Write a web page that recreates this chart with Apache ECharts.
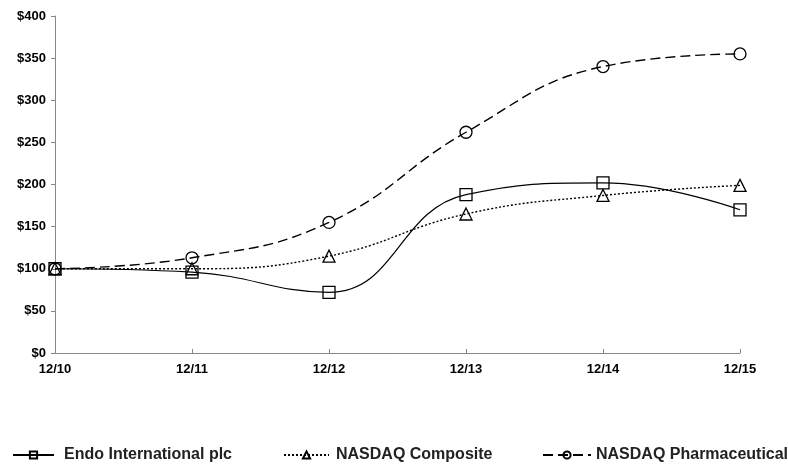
<!DOCTYPE html>
<html><head><meta charset="utf-8">
<script src="https://cdn.jsdelivr.net/npm/echarts@6/dist/echarts.min.js"></script>
<style>html,body{margin:0;padding:0;background:#fff}#c{width:788px;height:467px}</style>
</head><body><div id="c"></div>
<script>
const categories = ['12/10','12/11','12/12','12/13','12/14','12/15'];
const endo = [100, 96, 72, 188, 202, 170];
const nasdaqComposite = [100, 100, 115, 165, 187, 199];
const nasdaqPharma = [100, 113, 155, 262, 340, 355];
const yTicks = [0, 50, 100, 150, 200, 250, 300, 350, 400];

const chart = echarts.init(document.getElementById('c'));
const lblFont = {fontFamily:'Liberation Sans, Arial, sans-serif', fontWeight:'bold', fontSize:13, color:'#000'};
function mk(name, data, symbol, dash, w){
  return {
    name, type:'line', data, smooth:0.45, symbol, symbolSize: 12,
    lineStyle:{color:'#000', width:w, type:dash},
    itemStyle:{color:'rgba(255,255,255,0)', borderColor:'#000', borderWidth:1.3},
    emphasis:{disabled:true}, z: 2
  };
}
function leg(name, left, w, pad){
  return {data:[name], left, top:447, itemWidth:w, itemHeight:9, itemGap:0, padding:0,
    textStyle:{fontFamily:'Liberation Sans, Arial, sans-serif', fontSize:16, fontWeight:'bold', color:'#222', padding:[0,0,0,pad]}};
}
chart.setOption({
  animation:false,
  grid:{left:55, right:48, top:16, bottom:114},
  legend:[leg('Endo International plc', 12, 41, 5), leg('NASDAQ Composite', 283, 45, 2), leg('NASDAQ Pharmaceutical', 542, 48, 0)],
  xAxis:{type:'category', data:categories, boundaryGap:false,
    axisLine:{lineStyle:{color:'#888', width:1}},
    axisTick:{inside:true, length:4, lineStyle:{color:'#888'}},
    axisLabel:Object.assign({margin:10, interval:0}, lblFont), splitLine:{show:false}},
  yAxis:{type:'value', min:0, max:400, interval:50,
    axisLine:{show:true, lineStyle:{color:'#888', width:1}},
    axisTick:{show:true, length:4, lineStyle:{color:'#888'}},
    axisLabel:Object.assign({margin:9, formatter:v=>'$'+v}, lblFont), splitLine:{show:false}},
  series:[
    mk('Endo International plc', endo, 'rect', 'solid', 1.2),
    mk('NASDAQ Composite', nasdaqComposite, 'triangle', [2,2], 1.4),
    mk('NASDAQ Pharmaceutical', nasdaqPharma, 'circle', [10,5], 1.4)
  ]
});
</script></body></html>
